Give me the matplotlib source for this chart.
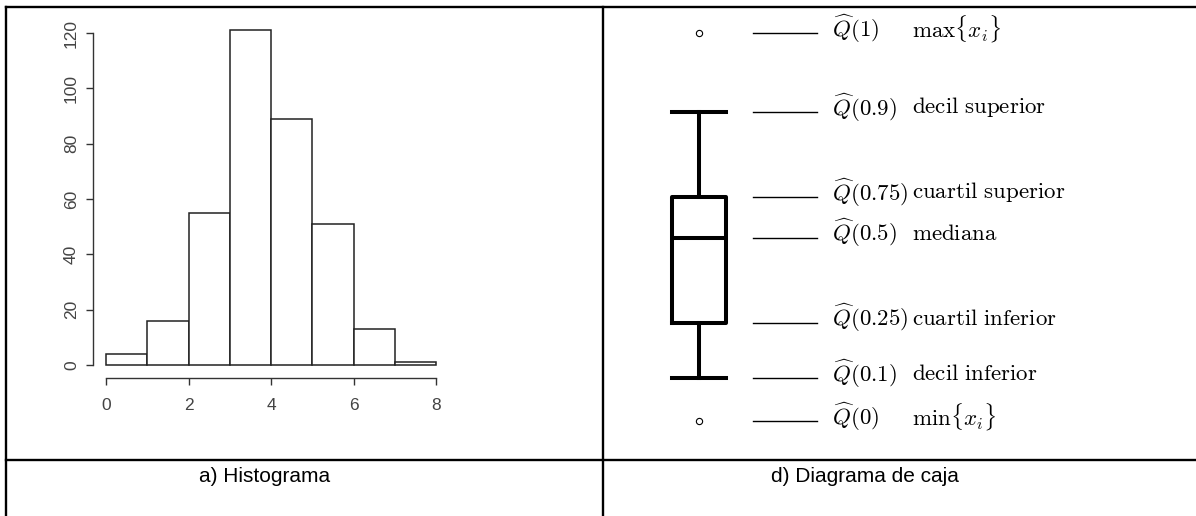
import numpy as np
import matplotlib
matplotlib.use('Agg')
import matplotlib.pyplot as plt
from matplotlib.lines import Line2D

plt.rcParams['mathtext.fontset'] = 'cm'
plt.rcParams['font.family'] = ['Liberation Sans', 'DejaVu Sans']

# histogram data (counts per unit bin)
bin_edges = [0, 1, 2, 3, 4, 5, 6, 7, 8]
counts = [4, 16, 55, 121, 89, 51, 13, 1]
yticks = [0, 20, 40, 60, 80, 100, 120]
xticks = [0, 2, 4, 6, 8]

# box plot quantiles (arbitrary scale 0..100)
q_min, q10, q25, q50, q75, q90, q_max = 0, 11, 25.3, 47.2, 57.7, 79.6, 100
quant_vals = [q_max, q90, q75, q50, q25, q10, q_min]
quant_tags = [r'$\widehat{Q}(1)$', r'$\widehat{Q}(0.9)$', r'$\widehat{Q}(0.75)$',
              r'$\widehat{Q}(0.5)$', r'$\widehat{Q}(0.25)$', r'$\widehat{Q}(0.1)$',
              r'$\widehat{Q}(0)$']
quant_desc = [r'$\max\{x_i\}$', r'$\mathrm{decil\ superior}$', r'$\mathrm{cuartil\ superior}$',
              r'$\mathrm{mediana}$', r'$\mathrm{cuartil\ inferior}$', r'$\mathrm{decil\ inferior}$',
              r'$\min\{x_i\}$']

captions = ['a) Histograma', 'd) Diagrama de caja']

W, H = 1196, 516
fig = plt.figure(figsize=(W / 100, H / 100), dpi=100)

def fx(px):
    return px / W

def fy(py):
    return 1 - py / H

# table borders
lw = 1.7
for (x0, y0, x1, y1) in [(6, 7, 1196, 7), (6, 7, 6, 516), (603, 7, 603, 516), (6, 460, 1196, 460)]:
    fig.add_artist(Line2D([fx(x0), fx(x1)], [fy(y0), fy(y1)], color='black', lw=lw,
                          transform=fig.transFigure, solid_capstyle='projecting'))

# ---- histogram (R style)
ax = fig.add_axes([fx(106), fy(365), fx(436) - fx(106), fy(33) - fy(365)])
ax.bar(bin_edges[:-1], counts, width=1, align='edge', facecolor='white',
       edgecolor='#222222', linewidth=1.1, clip_on=False)
ax.set_xlim(0, 8)
ax.set_ylim(0, 120)
for s in ['top', 'right']:
    ax.spines[s].set_visible(False)
ax.spines['left'].set_position(('outward', 9.4))
ax.spines['bottom'].set_position(('outward', 9.4))
ax.spines['left'].set_bounds(0, 120)
ax.spines['bottom'].set_bounds(0, 8)
for s in ['left', 'bottom']:
    ax.spines[s].set_color('#333333')
    ax.spines[s].set_linewidth(1.0)
ax.set_xticks(xticks)
ax.set_yticks(yticks)
ax.tick_params(axis='both', length=5, width=1.0, color='#333333', labelcolor='#444444', labelsize=12.5)
ax.tick_params(axis='x', pad=9)
ax.tick_params(axis='y', pad=5)
for lab in ax.get_yticklabels():
    lab.set_rotation(90)
    lab.set_va('center')

# ---- box plot diagram
bx = fig.add_axes([fx(603), fy(421), fx(1196) - fx(603), fy(33) - fy(421)])
bx.set_xlim(0, 1)
bx.set_ylim(0, 100)
bx.axis('off')
stats = [{'med': q50, 'q1': q25, 'q3': q75, 'whislo': q10, 'whishi': q90,
          'fliers': [q_min, q_max]}]
thick = dict(color='black', linewidth=2.9)
parts = bx.bxp(stats, positions=[0.162], widths=0.091, capwidths=0.091,
               boxprops=thick, whiskerprops=thick, capprops=thick, medianprops=thick,
               flierprops=dict(marker='o', markersize=4.5, markerfacecolor='white',
                               markeredgecolor='black', markeredgewidth=0.8),
               manage_ticks=False)
for key in parts:
    for art in parts[key]:
        art.set_clip_on(False)
for v, tag, desc in zip(quant_vals, quant_tags, quant_desc):
    bx.plot([0.253, 0.361], [v, v], color='black', lw=1.0, clip_on=False)
    bx.text(0.386, v + 1.2, tag, fontsize=16.5, va='center', ha='left', clip_on=False)
    bx.text(0.521, v + 1.2, desc, fontsize=16.5, va='center', ha='left', clip_on=False)

# captions
fig.text(fx(265), fy(476), captions[0], fontsize=15, ha='center', va='center')
fig.text(fx(865), fy(476), captions[1], fontsize=15, ha='center', va='center')

fig.savefig('out.png', dpi=100)
